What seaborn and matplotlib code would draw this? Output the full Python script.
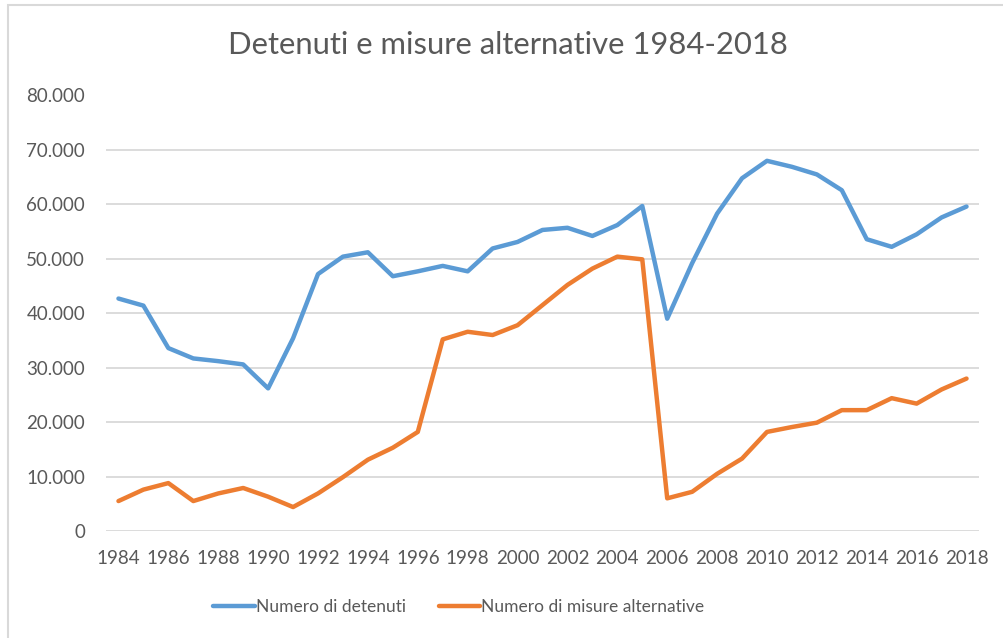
import matplotlib
matplotlib.use("Agg")
import matplotlib.pyplot as plt
from matplotlib.patches import Rectangle
import seaborn as sns
import pandas as pd

years = list(range(1984, 2019))
detenuti = [42700, 41400, 33600, 31700, 31200, 30600, 26200, 35400, 47200, 50400,
            51200, 46800, 47700, 48700, 47700, 51900, 53100, 55300, 55700, 54200,
            56200, 59700, 39000, 49200, 58300, 64800, 68000, 66900, 65500, 62600,
            53600, 52200, 54500, 57600, 59600]
misure = [5500, 7600, 8800, 5500, 6900, 7900, 6300, 4400, 6900, 9900,
          13100, 15300, 18200, 35200, 36600, 36000, 37800, 41500, 45200, 48200,
          50400, 49900, 6000, 7200, 10500, 13300, 18200, 19100, 19900, 22200,
          22200, 24400, 23400, 26000, 28000]
series_names = ["Numero di detenuti", "Numero di misure alternative"]
colors = ["#5B9BD5", "#ED7D31"]
title = "Detenuti e misure alternative 1984-2018"

df = pd.DataFrame({"anno": years * 2,
                   "valore": detenuti + misure,
                   "serie": [series_names[0]] * len(years) + [series_names[1]] * len(years)})

sns.set_theme(style="white")
plt.rcParams["font.family"] = ["Lato", "DejaVu Sans"]
text_col = "#595959"

fig = plt.figure(figsize=(10.04, 6.38), dpi=100)
ax = fig.add_axes([106 / 1004, 1 - 531 / 638, (979 - 106) / 1004, (531 - 95.5) / 638])

sns.lineplot(data=df, x="anno", y="valore", hue="serie", palette=colors,
             linewidth=3.2, ax=ax, legend=True)

ax.set_xlim(1983.5, 2018.5)
ax.set_ylim(0, 80000)
ax.set_yticks(range(0, 80001, 10000))
ax.set_yticklabels(["0"] + [f"{v:,}".replace(",", ".") for v in range(10000, 80001, 10000)])
ax.set_xticks(years[::2])
ax.set_xticklabels([str(y) for y in years[::2]])
ax.tick_params(axis="both", length=0, labelsize=13.5, colors=text_col)
ax.tick_params(axis="y", pad=15)
ax.tick_params(axis="x", pad=14)
ax.grid(axis="y", color="#D9D9D9", linewidth=1.3)
ax.set_axisbelow(True)
for s in ax.spines.values():
    s.set_visible(False)
ax.set_xlabel("")
ax.set_ylabel("")

handles, labels = ax.get_legend_handles_labels()
ax.get_legend().remove()
fig.legend(handles, labels, loc="center", bbox_to_anchor=(0.457, 1 - 607 / 638), ncol=2,
           frameon=False, fontsize=12.5, handlelength=2.4, handletextpad=0.05,
           columnspacing=1.9, labelcolor=text_col)

fig.text(508 / 1004, 1 - 45 / 638, title, ha="center", va="center", fontsize=22.3, color=text_col)

fig.patches.append(Rectangle((8 / 1004, -0.1), 1.2, 1 - 5 / 638 + 0.1, transform=fig.transFigure,
                             fill=False, edgecolor="#D9D9D9", linewidth=1.5))

fig.savefig("out.png", dpi=100)
